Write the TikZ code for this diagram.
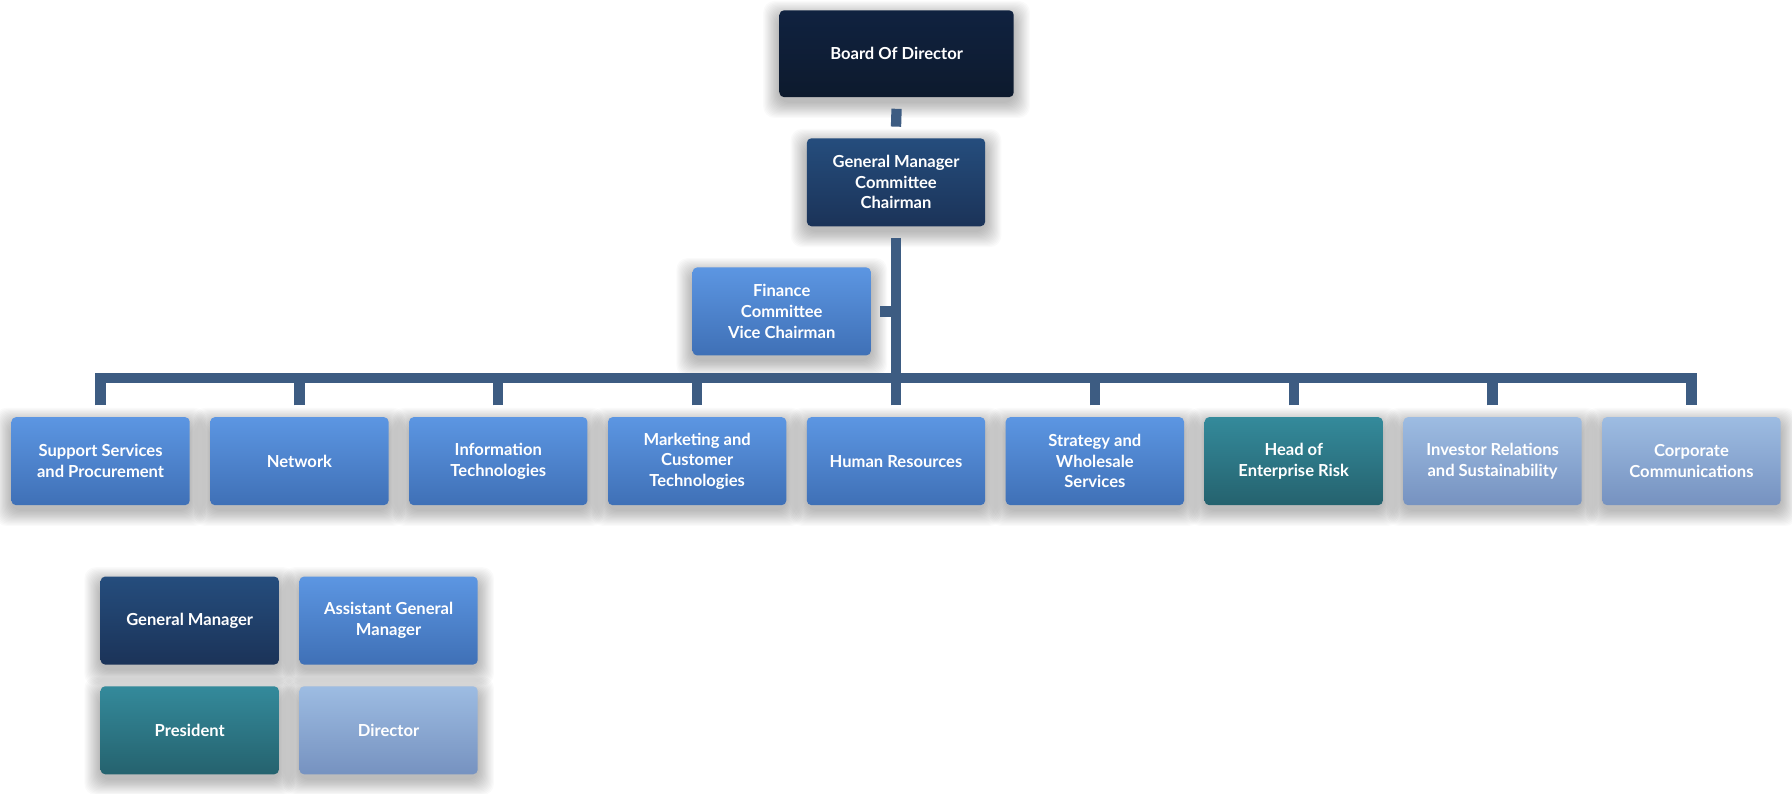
\documentclass[tikz,border=0pt]{standalone}
\usepackage{fontspec}
\setmainfont{Lato}
\usetikzlibrary{calc,backgrounds}
\definecolor{navyT}{HTML}{102240}
\definecolor{navyB}{HTML}{0D1A2D}
\definecolor{dblueT}{HTML}{254D7D}
\definecolor{dblueB}{HTML}{1B3358}
\definecolor{blueT}{HTML}{5C96E2}
\definecolor{blueB}{HTML}{3F70B6}
\definecolor{tealT}{HTML}{348A9B}
\definecolor{tealB}{HTML}{25626E}
\definecolor{lightT}{HTML}{9DBCE2}
\definecolor{lightB}{HTML}{7692C0}
\definecolor{connc}{HTML}{3D5C82}
\begin{document}
\begin{tikzpicture}[x=1pt,y=-1pt,
  box/.style={rounded corners=4pt, minimum width=156pt, minimum height=77pt, inner sep=2pt,
    align=center, text=white, font=\bfseries\fontsize{14.5}{18}\selectfont},
  navybox/.style={box, top color=navyT, bottom color=navyB},
  dbluebox/.style={box, top color=dblueT, bottom color=dblueB},
  bluebox/.style={box, top color=blueT, bottom color=blueB},
  tealbox/.style={box, top color=tealT, bottom color=tealB},
  lightbox/.style={box, top color=lightT, bottom color=lightB},
  shadowlayer/.style={fill=black, opacity=0.02, rounded corners=10pt},
  conn/.style={draw=connc, line width=9pt, line join=miter}]
\useasboundingbox (0,0) rectangle (1568,694);

\node[navybox, minimum width=205pt, minimum height=76pt] (board) at (784.5,47) {Board Of Director};
\node[dbluebox] (gmc) at (784,159.5) {General Manager\\Committee\\Chairman};
\node[bluebox] (fin) at (684,272.5) {Finance\\Committee\\Vice Chairman};

\node[bluebox] (r1) at (88,403.5) {Support Services\\and Procurement};
\node[bluebox] (r2) at (262,403.5) {Network};
\node[bluebox] (r3) at (436,403.5) {Information\\Technologies};
\node[bluebox] (r4) at (610,403.5) {Marketing and\\Customer\\Technologies};
\node[bluebox] (r5) at (784,403.5) {Human Resources};
\node[bluebox] (r6) at (958,403.5) {Strategy and\\Wholesale\\Services};
\node[tealbox] (r7) at (1132,403.5) {Head of\\Enterprise Risk};
\node[lightbox] (r8) at (1306,403.5) {Investor Relations\\and Sustainability};
\node[lightbox] (r9) at (1480,403.5) {Corporate\\Communications};

\node[dbluebox] (lgm) at (166,543) {General Manager};
\node[bluebox] (lagm) at (340,543) {Assistant General\\Manager};
\node[tealbox] (lpres) at (166,639) {President};
\node[lightbox] (ldir) at (340,639) {Director};

\begin{scope}[on background layer]
\fill[white] (0,0) rectangle (1568,694);
\foreach \n in {board,gmc,fin,r1,r2,r3,r4,r5,r6,r7,r8,r9,lgm,lagm,lpres,ldir}{
  \foreach \k in {1,...,14}{
    \fill[shadowlayer] ($(\n.south west)+(-\k,\k+4)$) rectangle ($(\n.north east)+(\k,-\k+6)$);
  }
}
\end{scope}

\coordinate (bus) at (784,331);
\draw[conn] ($(board.south)+(0,10)$) -- ($(gmc.north)+(0,-10)$);
\draw[conn] ($(gmc.south)+(0,10)$) -- (bus);
\draw[conn] ($(fin.east)+(8,0)$) -- (fin.east -| gmc.south);
\draw[conn] ($(r1.north)+(0,-10)$) |- (bus) -| ($(r9.north)+(0,-10)$);
\foreach \i in {2,...,8}{
  \draw[conn] ($(r\i.north)+(0,-10)$) -- (r\i.north |- bus);
}
\end{tikzpicture}
\end{document}
